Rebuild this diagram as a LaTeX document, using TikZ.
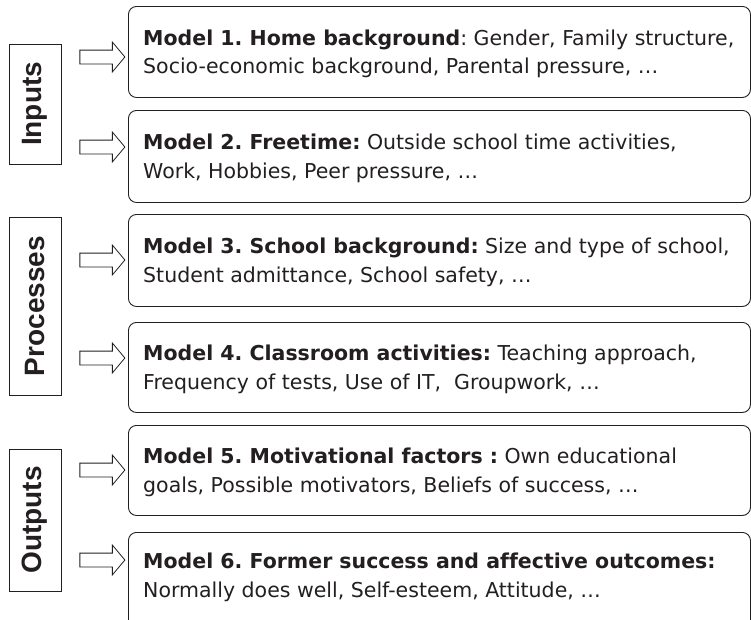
\documentclass[tikz,border=0pt]{standalone}
\usepackage{fontspec}
\setmainfont{DejaVu Sans}[Ligatures=NoCommon]
\newfontfamily\groupfont{Liberation Sans}
\usetikzlibrary{positioning,shapes.arrows}
\definecolor{inkgray}{HTML}{231F20}
\frenchspacing
\tikzset{
    model box/.style = {
        draw = inkgray,
        line width = 0.9pt,
        rounded corners = 8pt,
        anchor = north west,
        minimum width = 622pt,
        inner sep = 0pt,
        },
    model text/.style = {
        anchor = west,
        align = left,
        inner sep = 0pt,
        text = inkgray,
        font = \fontsize{20.5}{28.5}\selectfont,
        },
    group box/.style = {
        draw = inkgray,
        line width = 0.9pt,
        rotate = 90,
        minimum height = 52pt,
        inner sep = 0pt,
        text = inkgray,
        font = \groupfont\bfseries\fontsize{28}{30}\selectfont,
        },
    hollow arrow/.style = {
        draw = inkgray,
        single arrow,
        single arrow head extend = 8pt,
        single arrow tip angle = 100,
        minimum height = 45pt,
        inner sep = 0pt,
        line width = 0.8pt,
        },
}
\newcommand{\shaft}{\rule{0pt}{13pt}}
\begin{document}
\begin{tikzpicture}
    \useasboundingbox (0,0) rectangle (751pt,-619pt);

    % model boxes
    \node[model box, minimum height=91pt] (m1) at (128pt,-6pt) {};
    \node[model box, minimum height=92pt] (m2) at (128pt,-110pt) {};
    \node[model box, minimum height=92pt] (m3) at (128pt,-214pt) {};
    \node[model box, minimum height=90pt] (m4) at (128pt,-322pt) {};
    \node[model box, minimum height=90pt] (m5) at (128pt,-425pt) {};
    \node[model box, minimum height=96pt] (m6) at (128pt,-532pt) {};

    \node[model text] (t1) at ([xshift=15pt,yshift=-2pt]m1.west) {\textbf{Model 1. Home background}: Gender, Family structure,\\Socio-economic background, Parental pressure, \dots};
    \node[model text] (t2) at ([xshift=15pt,yshift=-2pt]m2.west) {\textbf{Model 2. Freetime:} Outside school time activities,\\Work, Hobbies, Peer pressure, \dots};
    \node[model text] (t3) at ([xshift=15pt,yshift=-2pt]m3.west) {\textbf{Model 3. School background:} Size and type of school,\\Student admittance, School safety, \dots};
    \node[model text] (t4) at ([xshift=15pt,yshift=-2pt]m4.west) {\textbf{Model 4. Classroom activities:} Teaching approach,\\Frequency of tests, Use of IT,\ \ Groupwork, \dots};
    \node[model text] (t5) at ([xshift=15pt,yshift=-2pt]m5.west) {\textbf{Model 5. Motivational factors :} Own educational\\goals, Possible motivators, Beliefs of success, \dots};
    \node[model text] (t6) at ([xshift=15pt,yshift=3pt]m6.west) {\textbf{Model 6. Former success and affective outcomes:}\\Normally does well, Self-esteem, Attitude, \dots};

    % groups
    \node[group box, minimum width=120pt] (inputs) at (35pt,-104pt) {Inputs};
    \node[group box, minimum width=178pt] (processes) at (35pt,-306pt) {Processes};
    \node[group box, minimum width=142pt] (outputs) at (35pt,-520pt) {Outputs};

    % arrows
    \node[hollow arrow] (a1) at (99.5pt,-57pt) {\shaft};
    \node[hollow arrow] (a2) at (99.5pt,-147pt) {\shaft};
    \node[hollow arrow] (a3) at (99.5pt,-260pt) {\shaft};
    \node[hollow arrow] (a4) at (99.5pt,-358pt) {\shaft};
    \node[hollow arrow] (a5) at (99.5pt,-470pt) {\shaft};
    \node[hollow arrow] (a6) at (99.5pt,-560pt) {\shaft};
\end{tikzpicture}
\end{document}
